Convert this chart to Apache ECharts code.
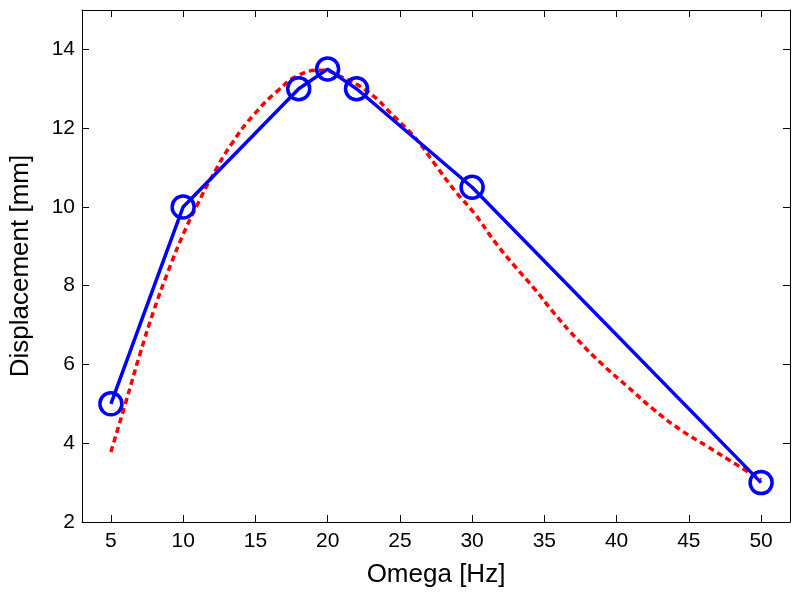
<!DOCTYPE html>
<html>
<head>
<meta charset="utf-8">
<script src="https://cdn.jsdelivr.net/npm/echarts@6/dist/echarts.min.js"></script>
<style>html,body{margin:0;padding:0;background:#fff}#c{width:800px;height:598px}</style>
</head>
<body>
<div id="c"></div>
<script>
var measuredX = [5, 10, 18, 20, 22, 30, 50];
var measuredY = [5, 10, 13, 13.5, 13, 10.5, 3];

var fitX = [5, 6, 7, 8, 9, 10, 11, 12, 13.35, 14.96, 16.58, 17.96, 19.57, 20.95, 22.8, 24.64, 26.02, 27.4, 28.79, 30.17, 31.56, 32.94, 34.32, 35.7, 37.32, 38.93, 40.78, 42.62, 44.47, 46.31, 48.15, 50];
var fitY = [3.78, 5.0, 6.25, 7.4, 8.4, 9.3, 10.07, 10.77, 11.6, 12.37, 12.96, 13.34, 13.47, 13.30, 12.92, 12.28, 11.77, 11.10, 10.42, 9.83, 9.12, 8.50, 7.92, 7.29, 6.62, 6.03, 5.43, 4.84, 4.33, 3.91, 3.49, 3.07];

var xTicks = [5, 10, 15, 20, 25, 30, 35, 40, 45, 50];
var yTicks = [2, 4, 6, 8, 10, 12, 14];

function pairs(xs, ys) { return xs.map(function (x, i) { return [x, ys[i]]; }); }

var font = 'Liberation Sans, Arial, Helvetica, sans-serif';
var axisBase = {
  type: 'value',
  axisLine: { show: true, onZero: false, lineStyle: { color: '#000', width: 1 } },
  axisTick: { show: true, inside: true, length: 7, lineStyle: { color: '#000', width: 1 } },
  splitLine: { show: false }
};

var chart = echarts.init(document.getElementById('c'), null, { renderer: 'canvas' });
chart.setOption({
  backgroundColor: '#fff',
  animation: false,
  grid: { left: 81, right: 10, top: 10, bottom: 76 },
  xAxis: [
    Object.assign({}, axisBase, {
      min: 3, max: 52, interval: 5,
      position: 'bottom',
      name: 'Omega [Hz]', nameLocation: 'middle', nameGap: 40,
      nameTextStyle: { fontFamily: font, fontSize: 26, color: '#000' },
      axisLabel: { fontFamily: font, fontSize: 21, color: '#000', margin: 9,
        customValues: xTicks },
      axisTick: Object.assign({}, axisBase.axisTick, { customValues: xTicks })
    }),
    Object.assign({}, axisBase, {
      min: 3, max: 52, position: 'top',
      axisLabel: { show: false },
      axisTick: Object.assign({}, axisBase.axisTick, { customValues: xTicks })
    })
  ],
  yAxis: [
    Object.assign({}, axisBase, {
      min: 2, max: 15, interval: 2,
      position: 'left',
      name: 'Displacement [mm]', nameLocation: 'middle', nameGap: 48,
      nameTextStyle: { fontFamily: font, fontSize: 26, color: '#000' },
      axisLabel: { fontFamily: font, fontSize: 21, color: '#000', margin: 7,
        customValues: yTicks },
      axisTick: Object.assign({}, axisBase.axisTick, { customValues: yTicks })
    }),
    Object.assign({}, axisBase, {
      min: 2, max: 15, position: 'right',
      axisLabel: { show: false },
      axisTick: Object.assign({}, axisBase.axisTick, { customValues: yTicks })
    })
  ],
  series: [
    {
      type: 'line',
      data: pairs(measuredX, measuredY),
      xAxisIndex: 0, yAxisIndex: 0,
      lineStyle: { color: '#0000ff', width: 3.5 },
      symbol: 'circle', symbolSize: 22,
      itemStyle: { color: 'rgba(0,0,0,0)', borderColor: '#0000ff', borderWidth: 3.5 },
      z: 3
    },
    {
      type: 'line',
      data: pairs(fitX, fitY),
      xAxisIndex: 0, yAxisIndex: 0,
      smooth: 0.5,
      showSymbol: false, symbol: 'none',
      lineStyle: { color: '#ff0000', width: 3.5, type: [6, 4] },
      z: 2
    }
  ]
});
</script>
</body>
</html>
